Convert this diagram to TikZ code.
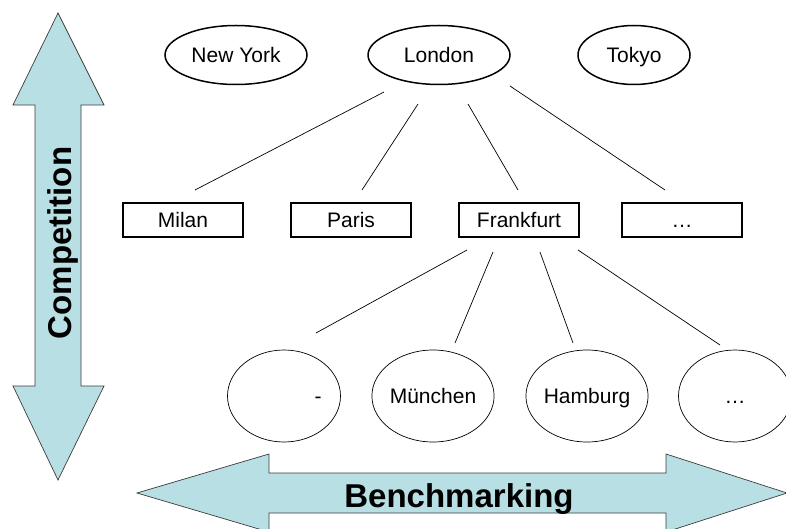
\documentclass[tikz,border=0pt]{standalone}
\usepackage{fontspec}
\setmainfont{Liberation Sans}
\usepackage{xcolor}
\usepackage{tikz}
\usetikzlibrary{shapes.geometric, positioning}
\definecolor{arrowblue}{RGB}{184,223,227}
\definecolor{arrowedge}{RGB}{60,60,60}

\begin{document}
\begin{tikzpicture}[x=1pt, y=-1pt,
    cityfont/.style={font=\fontsize{21}{25}\selectfont, text height=17pt, text depth=2pt},
    hub/.style={draw, ellipse, line width=1.5pt, minimum width=142pt, minimum height=59pt, inner sep=0pt, cityfont},
    city/.style={draw, rectangle, line width=1.6pt, minimum width=120pt, minimum height=34pt, inner sep=0pt, cityfont},
    local/.style={draw, ellipse, line width=0.7pt, minimum width=113pt, minimum height=92pt, inner sep=0pt, cityfont},
    link/.style={line width=0.7pt},
    bigarrow/.style={draw=arrowedge, fill=arrowblue, line width=0.7pt},
    axislabel/.style={font=\fontsize{33}{38}\selectfont\bfseries}]
\clip (0,0) rectangle (786,529);

% axes
\draw[bigarrow] (58,13) -- (104,105) -- (81,105) -- (81,386) -- (104,386) -- (58,480)
    -- (13,386) -- (35,386) -- (35,105) -- (13,105) -- cycle;
\node[axislabel, rotate=90, anchor=base] (comp) at (71,243) {Competition};
\draw[bigarrow] (137,493) -- (269,454) -- (269,473) -- (666,473) -- (666,454) -- (787,493)
    -- (666,532) -- (666,513) -- (269,513) -- (269,532) -- cycle;
\node[axislabel, anchor=base] (bench) at (459,507) {Benchmarking};

% top level
\node[hub] (ny) at (236,55) {New York};
\node[hub] (lon) at (439,55) {London};
\node[hub, minimum width=112pt] (tok) at (634,55) {Tokyo};

% second level
\node[city] (mil) at (183,220) {Milan};
\node[city] (par) at (351,220) {Paris};
\node[city] (fra) at (519,220) {Frankfurt};
\node[city] (etc) at (682,220) {…};

% third level
\node[local] (loc1) at (284,396) {\hspace*{68pt}-};
\node[local] (muc) at (433,396) {München};
\node[local] (ham) at (587,396) {Hamburg};
\node[local] (loc4) at (735,396) {…};

\draw[link] ([shift={(-55,37)}]lon.center) -- ([shift={(12,-30)}]mil.center);
\draw[link] ([shift={(-21,49)}]lon.center) -- ([shift={(11,-30)}]par.center);
\draw[link] ([shift={(29,49)}]lon.center) -- ([shift={(-1,-30)}]fra.center);
\draw[link] ([shift={(71,31)}]lon.center) -- ([shift={(-17,-30)}]etc.center);

\draw[link] ([shift={(-52,30)}]fra.center) -- ([shift={(32,-63)}]loc1.center);
\draw[link] ([shift={(-26,32)}]fra.center) -- ([shift={(22,-53)}]muc.center);
\draw[link] ([shift={(21,32)}]fra.center) -- ([shift={(-14,-53)}]ham.center);
\draw[link] ([shift={(59,30)}]fra.center) -- ([shift={(-15,-51)}]loc4.center);
\end{tikzpicture}
\end{document}
